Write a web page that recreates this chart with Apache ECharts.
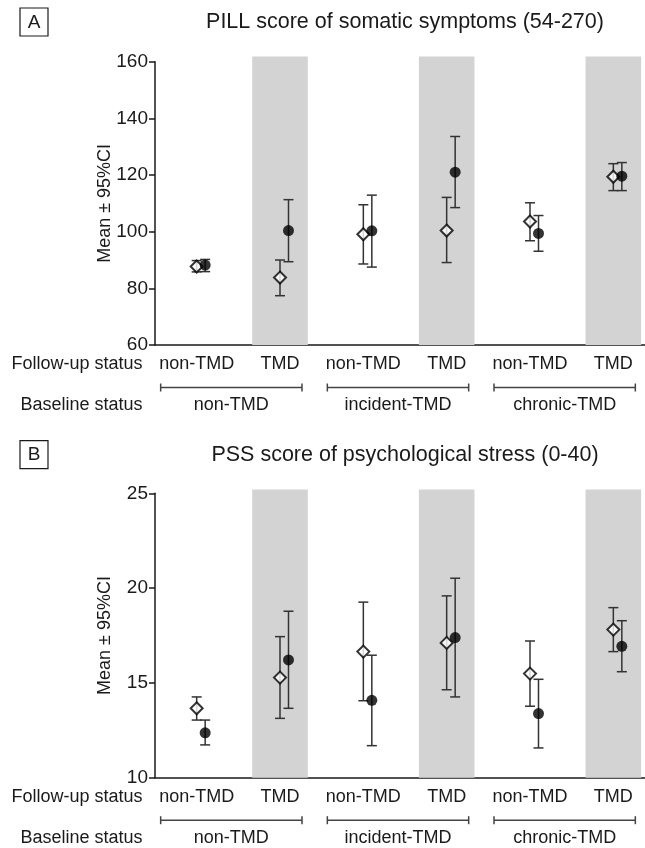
<!DOCTYPE html>
<html>
<head>
<meta charset="utf-8">
<title>PILL / PSS scores</title>
<script src="https://cdn.jsdelivr.net/npm/echarts@6/dist/echarts.min.js"></script>
<style>
  html, body { margin: 0; padding: 0; background: #fff; overflow: hidden; }
  /* a bit wider than the window: the last column is cut at the right edge */
  #main { width: 660px; height: 848px; }
</style>
</head>
<body>
<div id="main"></div>
<script>
// categories
var followUp = ['non-TMD', 'TMD', 'non-TMD', 'TMD', 'non-TMD', 'TMD'];
var baselineGroups = ['non-TMD', 'incident-TMD', 'chronic-TMD'];
var bandCats = [1, 3, 5];

// A: PILL score (open diamond / filled circle)
var pillDiamondMean = [87.7, 83.8, 99.1, 100.4, 103.6, 119.4];
var pillDiamondLow  = [85.8, 77.4, 88.6, 89.1, 96.8, 114.5];
var pillDiamondHigh = [89.8, 90.0, 109.5, 112.1, 110.2, 124.0];
var pillCircleMean  = [88.2, 100.4, 100.3, 121.0, 99.4, 119.6];
var pillCircleLow   = [85.9, 89.4, 87.5, 108.5, 93.1, 114.5];
var pillCircleHigh  = [90.2, 111.3, 112.9, 133.6, 105.7, 124.4];

// B: PSS score
var pssDiamondMean = [13.66, 15.28, 16.65, 17.11, 15.49, 17.81];
var pssDiamondLow  = [13.04, 13.13, 14.06, 14.64, 13.77, 16.65];
var pssDiamondHigh = [14.26, 17.44, 19.26, 19.59, 17.21, 18.97];
var pssCircleMean  = [12.37, 16.21, 14.08, 17.39, 13.38, 16.93];
var pssCircleLow   = [11.73, 13.66, 11.69, 14.26, 11.57, 15.59];
var pssCircleHigh  = [13.04, 18.78, 16.46, 20.52, 15.19, 18.28];

var FONT = "'Liberation Sans', Arial, sans-serif";
var INK = '#1a1a1a';
var BAR = '#333';
var OFFSET = 8.5;   // circle sits right of the diamond

var chart = echarts.init(document.getElementById('main'));

function bandRender(params, api) {
    var x = api.value(0);
    var top = api.coord([x, api.value(1)]);
    var bot = api.coord([x, api.value(2)]);
    var w = api.size([1, 0])[0] * 0.667;
    return {
        type: 'rect',
        shape: { x: top[0] - w / 2, y: top[1], width: w, height: bot[1] - top[1] },
        style: { fill: '#d3d3d3' }
    };
}

function errorRender(offset) {
    return function (params, api) {
        var x = api.value(0);
        var lo = api.coord([x, api.value(1)]);
        var hi = api.coord([x, api.value(2)]);
        var cx = lo[0] + offset, h = 5;
        var st = { stroke: BAR, lineWidth: 1.5, fill: null };
        return {
            type: 'group',
            children: [
                { type: 'line', shape: { x1: cx, y1: hi[1], x2: cx, y2: lo[1] }, style: st },
                { type: 'line', shape: { x1: cx - h, y1: hi[1], x2: cx + h, y2: hi[1] }, style: st },
                { type: 'line', shape: { x1: cx - h, y1: lo[1], x2: cx + h, y2: lo[1] }, style: st }
            ]
        };
    };
}

function bracketRender(yMin) {
    return function (params, api) {
        var a = api.coord([api.value(0), yMin]);
        var b = api.coord([api.value(1), yMin]);
        var x1 = a[0] - 36, x2 = b[0] + 22;
        var y = a[1] + 42.5;
        var st = { stroke: '#444', lineWidth: 1.5 };
        return {
            type: 'group',
            children: [
                { type: 'line', shape: { x1: x1, y1: y, x2: x2, y2: y }, style: st },
                { type: 'line', shape: { x1: x1, y1: y - 4, x2: x1, y2: y + 4 }, style: st },
                { type: 'line', shape: { x1: x2, y1: y - 4, x2: x2, y2: y + 4 }, style: st },
                {
                    type: 'text',
                    style: {
                        text: baselineGroups[params.dataIndex],
                        x: (x1 + x2) / 2, y: y + 18,
                        align: 'center', verticalAlign: 'middle',
                        font: '18px ' + FONT, fill: INK
                    }
                }
            ]
        };
    };
}

function pairs(vals) {
    return vals.map(function (v, i) { return [i, v]; });
}
function triples(lo, hi) {
    return lo.map(function (v, i) { return [i, v, hi[i]]; });
}

function panelSeries(g, yMin, bandTop, dMean, dLow, dHigh, cMean, cLow, cHigh) {
    return [
        {
            type: 'custom', xAxisIndex: g, yAxisIndex: g, z: 1, silent: true,
            renderItem: bandRender, encode: { x: 0, y: [1, 2] },
            data: bandCats.map(function (c) { return [c, bandTop, yMin]; })
        },
        {
            type: 'custom', xAxisIndex: g, yAxisIndex: g, z: 2,
            renderItem: bracketRender(yMin), encode: { x: [0, 1] },
            data: [[0, 1], [2, 3], [4, 5]]
        },
        {
            type: 'custom', xAxisIndex: g, yAxisIndex: g, z: 3,
            renderItem: errorRender(0), encode: { x: 0, y: [1, 2] },
            data: triples(dLow, dHigh)
        },
        {
            type: 'scatter', xAxisIndex: g, yAxisIndex: g, z: 4,
            symbol: 'diamond', symbolSize: 12,
            itemStyle: { color: '#fff', borderColor: '#000', borderWidth: 2 },
            data: pairs(dMean)
        },
        {
            type: 'custom', xAxisIndex: g, yAxisIndex: g, z: 5,
            renderItem: errorRender(OFFSET), encode: { x: 0, y: [1, 2] },
            data: triples(cLow, cHigh)
        },
        {
            type: 'scatter', xAxisIndex: g, yAxisIndex: g, z: 6,
            symbol: 'circle', symbolSize: 11, symbolOffset: [OFFSET, 0],
            itemStyle: { color: '#000' },
            data: pairs(cMean)
        }
    ];
}

function xAxisFor(g) {
    return {
        type: 'category', gridIndex: g, data: followUp, boundaryGap: true,
        axisLine: { lineStyle: { color: INK, width: 1.5 } },
        axisTick: { alignWithLabel: true, length: 6, lineStyle: { color: INK, width: 1.5 } },
        axisLabel: { interval: 0, margin: 10, fontSize: 18, fontFamily: FONT, color: INK }
    };
}

function yAxisFor(g, min, max, step) {
    return {
        type: 'value', gridIndex: g, min: min, max: max, interval: step,
        axisLine: { show: true, lineStyle: { color: INK, width: 1.5 } },
        axisTick: { show: true, length: 6, lineStyle: { color: INK, width: 1.5 } },
        splitLine: { show: false },
        axisLabel: { margin: 7, fontSize: 19, fontFamily: FONT, color: INK },
        name: 'Mean \u00b1 95%CI', nameLocation: 'middle', nameGap: 41,
        nameMoveOverlap: false,
        nameTextStyle: { fontSize: 18, fontFamily: FONT, color: INK }
    };
}

// panel furniture: letter box, title, row labels
var SHIFT = 432.7;
var titles = ['PILL score of somatic symptoms (54-270)', 'PSS score of psychological stress (0-40)'];
var letters = ['A', 'B'];
var graphics = [];
[0, 1].forEach(function (k) {
    var dy = k * SHIFT;
    graphics.push({ type: 'rect', shape: { x: 20, y: 8 + dy, width: 28, height: 28 },
        style: { fill: 'none', stroke: INK, lineWidth: 1.2 } });
    graphics.push({ type: 'text', x: 34, y: 22.5 + dy,
        style: { text: letters[k], font: '19px ' + FONT, fill: INK, align: 'center', verticalAlign: 'middle' } });
    graphics.push({ type: 'text', x: 405, y: 22.5 + dy,
        style: { text: titles[k], font: '21.5px ' + FONT, fill: INK, align: 'center', verticalAlign: 'middle' } });
    graphics.push({ type: 'text', x: 142.5, y: 364.5 + dy,
        style: { text: 'Follow-up status', font: '18px ' + FONT, fill: INK, align: 'right', verticalAlign: 'middle' } });
    graphics.push({ type: 'text', x: 142.5, y: 405 + dy,
        style: { text: 'Baseline status', font: '18px ' + FONT, fill: INK, align: 'right', verticalAlign: 'middle' } });
});

chart.setOption({
    animation: false,
    backgroundColor: '#fff',
    grid: [
        { left: 155, top: 61.7, width: 500, height: 283.3 },
        { left: 155, top: 493.3, width: 500, height: 284.4 }
    ],
    xAxis: [xAxisFor(0), xAxisFor(1)],
    yAxis: [yAxisFor(0, 60, 160, 20), yAxisFor(1, 10, 25, 5)],
    graphic: graphics,
    series: [].concat(
        panelSeries(0, 60, 161.8, pillDiamondMean, pillDiamondLow, pillDiamondHigh,
            pillCircleMean, pillCircleLow, pillCircleHigh),
        panelSeries(1, 10, 25.2, pssDiamondMean, pssDiamondLow, pssDiamondHigh,
            pssCircleMean, pssCircleLow, pssCircleHigh)
    )
});
</script>
</body>
</html>
